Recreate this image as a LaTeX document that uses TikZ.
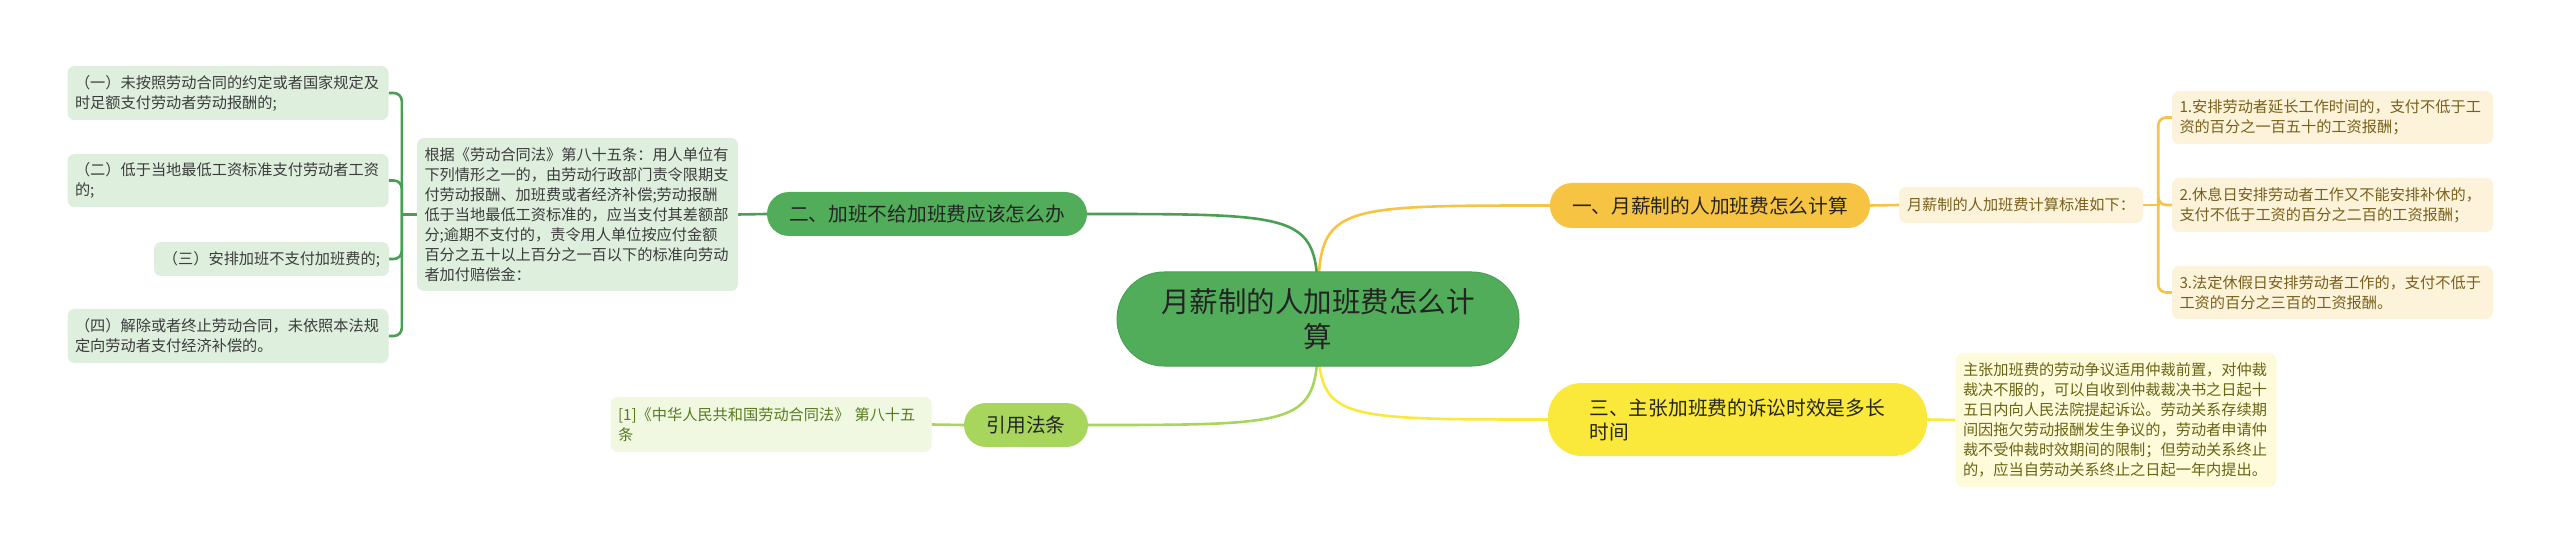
\documentclass[tikz,border=0pt]{standalone}
\usepackage{fontspec}
\setmainfont{Noto Sans CJK SC}
\usetikzlibrary{backgrounds}
\definecolor{mapgreen}{RGB}{82,173,90}
\definecolor{mapgreenline}{RGB}{74,160,82}
\definecolor{maporange}{RGB}{246,195,67}
\definecolor{mapyellow}{RGB}{250,232,58}
\definecolor{maplime}{RGB}{168,214,92}
\definecolor{leafgreen}{RGB}{222,239,222}
\definecolor{leaforange}{RGB}{253,243,218}
\definecolor{leafyellow}{RGB}{254,251,218}
\definecolor{leaflime}{RGB}{240,248,226}
\definecolor{inkdark}{RGB}{36,36,36}
\definecolor{inkgray}{RGB}{60,60,60}
\definecolor{inkbrown}{RGB}{120,96,28}
\definecolor{inkolive}{RGB}{105,100,20}
\definecolor{inklime}{RGB}{88,122,30}

\begin{document}
\begin{tikzpicture}[x=1pt,y=-1pt,
  topic/.style={rounded corners=22pt,minimum height=44pt,inner sep=0pt,text=inkdark,font=\fontsize{19.7}{24}\selectfont},
  leaf/.style={rounded corners=7pt,inner xsep=7.5pt,inner ysep=3pt,font=\fontsize{15.2}{20}\selectfont},
  note/.style={leaf,text width=306pt,align=left},
  link/.style={line width=2.6pt}]
  \useasboundingbox (0,0) rectangle (2560,553);
  \node[fill=mapgreen,draw=mapgreenline,line width=1pt,rounded corners=47pt,minimum width=402pt,minimum height=94pt,inner sep=0pt,align=center,text=inkdark,font=\fontsize{28.5}{35}\selectfont] (root) at (1318,319) {月薪制的人加班费怎么计\\算};
  \node[topic,fill=maporange,minimum width=320pt,minimum height=45pt] (one) at (1710,205.5) {一、月薪制的人加班费怎么计算};
  \node[topic,fill=mapgreen,minimum width=320pt] (two) at (927,214) {二、加班不给加班费应该怎么办};
  \node[topic,fill=mapyellow,rounded corners=34pt,minimum width=379pt,minimum height=73pt,text width=296pt,align=left] (three) at (1737.5,419.5) {三、主张加班费的诉讼时效是多长\\时间};
  \node[topic,fill=maplime,minimum width=124pt] (cite) at (1026,425) {引用法条};

  \node[leaf,fill=leaforange,text=inkbrown,minimum width=244pt,minimum height=36pt] (rule) at (2021,205) {月薪制的人加班费计算标准如下：};
  \node[note,fill=leaforange,text=inkbrown,minimum height=53pt] (r1) at (2332.5,117.5) {1.安排劳动者延长工作时间的，支付不低于工\\资的百分之一百五十的工资报酬；};
  \node[note,fill=leaforange,text=inkbrown,minimum height=54pt] (r2) at (2332.5,205) {2.休息日安排劳动者工作又不能安排补休的，\\支付不低于工资的百分之二百的工资报酬；};
  \node[note,fill=leaforange,text=inkbrown,minimum height=53pt] (r3) at (2332.5,292.5) {3.法定休假日安排劳动者工作的，支付不低于\\工资的百分之三百的工资报酬。};
  \node[note,fill=leafyellow,text=inkolive,minimum height=134pt] (limit) at (2116,420) {主张加班费的劳动争议适用仲裁前置，对仲裁\\裁决不服的，可以自收到仲裁裁决书之日起十\\五日内向人民法院提起诉讼。劳动关系存续期\\间因拖欠劳动报酬发生争议的，劳动者申请仲\\裁不受仲裁时效期间的限制；但劳动关系终止\\的，应当自劳动关系终止之日起一年内提出。};
  \node[note,fill=leafgreen,text=inkgray,minimum height=153pt] (basis) at (577.5,214.5) {根据《劳动合同法》第八十五条：用人单位有\\下列情形之一的，由劳动行政部门责令限期支\\付劳动报酬、加班费或者经济补偿;劳动报酬\\低于当地最低工资标准的，应当支付其差额部\\分;逾期不支付的，责令用人单位按应付金额\\百分之五十以上百分之一百以下的标准向劳动\\者加付赔偿金：};
  \node[note,fill=leafgreen,text=inkgray,minimum height=54pt] (c1) at (228,93) {（一）未按照劳动合同的约定或者国家规定及\\时足额支付劳动者劳动报酬的;};
  \node[note,fill=leafgreen,text=inkgray,minimum height=53pt] (c2) at (228,180.5) {（二）低于当地最低工资标准支付劳动者工资\\的;};
  \node[leaf,fill=leafgreen,text=inkgray,minimum width=235pt,minimum height=34pt] (c3) at (271.5,259) {（三）安排加班不支付加班费的;};
  \node[note,fill=leafgreen,text=inkgray,minimum height=54pt] (c4) at (228,336) {（四）解除或者终止劳动合同，未依照本法规\\定向劳动者支付经济补偿的。};
  \node[note,fill=leaflime,text=inklime,minimum height=55pt] (ref) at (771,424.5) {[1]《中华人民共和国劳动合同法》 第八十五\\条};

  \begin{scope}[on background layer]
    \draw[link,mapgreenline] (root.center) .. controls (root.center |- two.east) .. (two.east);
    \draw[link,maporange] (root.center) .. controls (root.center |- one.west) .. (one.west);
    \draw[link,maplime] (root.center) .. controls (root.center |- cite.east) .. (cite.east);
    \draw[link,mapyellow] (root.center) .. controls (root.center |- three.west) .. (three.west);
    \draw[link,mapgreenline] (two.west) -- (basis.east);
    \draw[link,maporange] (one.east) -- (rule.west);
    \draw[link,mapyellow] (three.east) -- (limit.west);
    \draw[link,maplime] (cite.west) -- (ref.east);
    \draw[link,mapgreenline] (basis.west) -- ++(-15,0) coordinate (lj);
    \draw[link,mapgreenline,rounded corners=8pt] (lj) |- (c1.east);
    \draw[link,mapgreenline,rounded corners=8pt] (lj) |- (c2.east);
    \draw[link,mapgreenline,rounded corners=8pt] (lj) |- (c3.east);
    \draw[link,mapgreenline,rounded corners=8pt] (lj) |- (c4.east);
    \draw[link,maporange] (rule.east) -- ++(15,0) coordinate (rj);
    \draw[link,maporange,rounded corners=8pt] (rj) |- (r1.west);
    \draw[link,maporange,rounded corners=8pt] (rj) |- (r2.west);
    \draw[link,maporange,rounded corners=8pt] (rj) |- (r3.west);
  \end{scope}
\end{tikzpicture}
\end{document}
